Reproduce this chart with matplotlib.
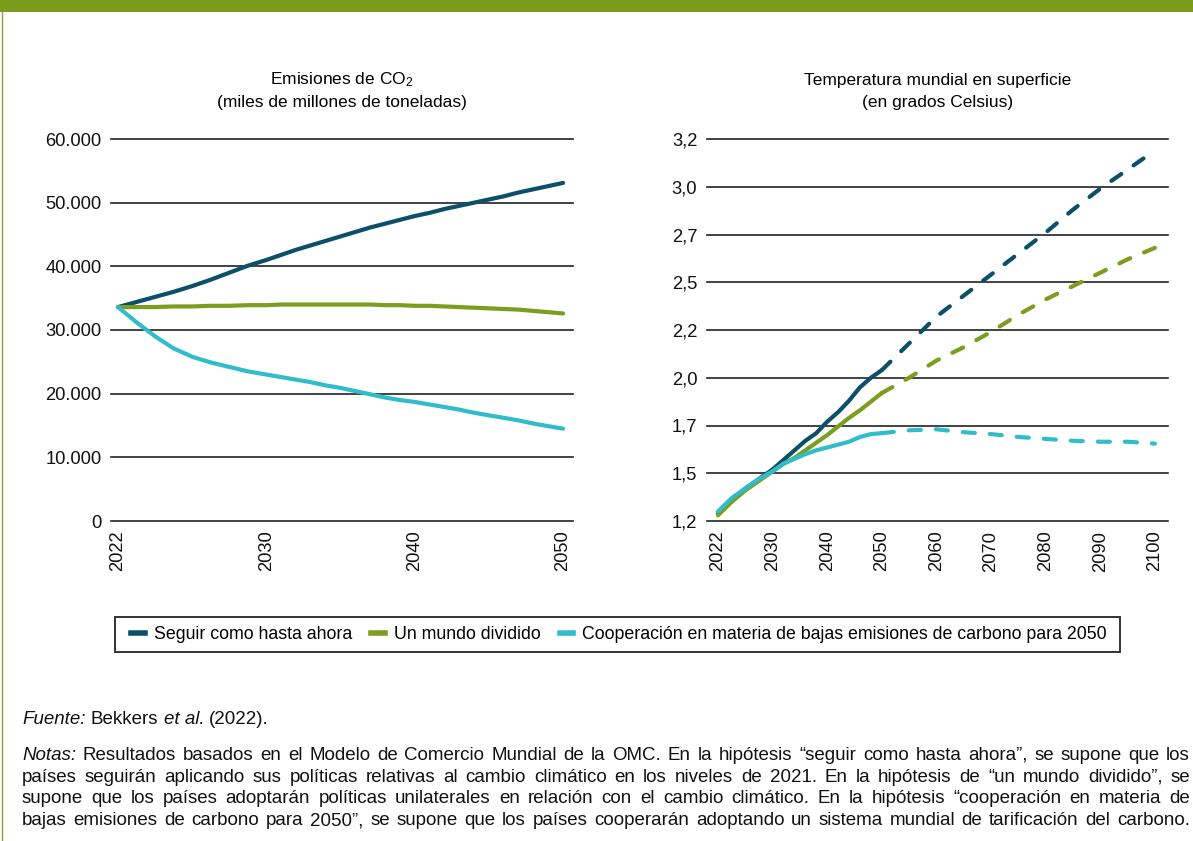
import numpy as np
import matplotlib
matplotlib.use("Agg")
import matplotlib.pyplot as plt
from matplotlib.patches import Rectangle
from matplotlib.lines import Line2D

plt.rcParams['font.family'] = ['Liberation Sans', 'DejaVu Sans']
plt.rcParams['mathtext.fontset'] = 'custom'
plt.rcParams['mathtext.rm'] = 'Liberation Sans'
plt.rcParams['mathtext.it'] = 'Liberation Sans:italic'

# ---------------- data ----------------
series_names = ["Seguir como hasta ahora", "Un mundo dividido",
                "Cooperación en materia de bajas emisiones de carbono para 2050"]
series_colors = ["#0c4f69", "#7b9e1e", "#30bccb"]

# CO2 emissions (millions of tonnes), yearly 2022-2050
co2_years = list(range(2022, 2051))
co2_seguir = [33600, 34400, 35200, 36000, 36900, 37900, 39000, 40100, 41000, 41800,
              42600, 43300, 44000, 44700, 45400, 46100, 46700, 47300, 47900, 48400,
              49000, 49500, 50000, 50500, 51000, 51600, 52100, 52600, 53100]
co2_dividido = [33600, 33600, 33600, 33700, 33700, 33800, 33800, 33900, 33900, 34000,
                34000, 34000, 34000, 34000, 34000, 34000, 33900, 33900, 33800, 33800,
                33700, 33600, 33500, 33400, 33300, 33200, 33000, 32800, 32600]
co2_coop = [33600, 31200, 29000, 27100, 25800, 24900, 24200, 23500, 23000, 22600,
            22200, 21800, 21300, 20900, 20400, 19900, 19400, 19000, 18700, 18300,
            17900, 17500, 17000, 16600, 16200, 15800, 15300, 14900, 14500]
co2_ticks = [0, 10000, 20000, 30000, 40000, 50000, 60000]
co2_ticklabels = ["0", "10.000", "20.000", "30.000", "40.000", "50.000", "60.000"]
co2_xticks = [2022, 2030, 2040, 2050]

# Global surface temperature (°C)
temp_years = [2022, 2024, 2026, 2028, 2030, 2032, 2034, 2036, 2038, 2040, 2042, 2044,
              2046, 2048, 2050, 2055, 2060, 2065, 2070, 2075, 2080, 2085, 2090, 2095, 2100]
temp_seguir = [1.29, 1.36, 1.42, 1.47, 1.52, 1.57, 1.62, 1.67, 1.71, 1.77, 1.82, 1.88,
               1.95, 2.00, 2.04, 2.18, 2.32, 2.43, 2.54, 2.65, 2.76, 2.88, 2.99, 3.09, 3.19]
temp_dividido = [1.28, 1.35, 1.41, 1.46, 1.51, 1.55, 1.58, 1.62, 1.66, 1.70, 1.745, 1.79,
                 1.83, 1.875, 1.92, 2.00, 2.09, 2.16, 2.24, 2.33, 2.41, 2.48, 2.55, 2.62, 2.68]
temp_coop = [1.30, 1.37, 1.42, 1.47, 1.51, 1.55, 1.575, 1.60, 1.62, 1.635, 1.65, 1.665,
             1.69, 1.705, 1.71, 1.725, 1.73, 1.715, 1.705, 1.69, 1.68, 1.67, 1.665, 1.665, 1.655]
temp_split_year = 2050
temp_ticks = [1.25, 1.5, 1.75, 2.0, 2.25, 2.5, 2.75, 3.0, 3.25]
temp_ticklabels = ["1,2", "1,5", "1,7", "2,0", "2,2", "2,5", "2,7", "3,0", "3,2"]
temp_xticks = [2022, 2030, 2040, 2050, 2060, 2070, 2080, 2090, 2100]

# ---------------- figure ----------------
W, H = 1193, 841
fig = plt.figure(figsize=(W / 100, H / 100), dpi=100)

# top band and left rule
fig.patches.append(Rectangle((0, 1 - 12 / H), 1, 12 / H, transform=fig.transFigure,
                             facecolor="#7a9c1b", edgecolor="none"))
fig.lines.append(Line2D([2 / W, 2 / W], [0, 1 - 12 / H], transform=fig.transFigure,
                        color="#8d9c45", lw=1))

# axis scale: first interval (2022-2030) drawn with the same width as 10 years
def fwd(x):
    x = np.asarray(x, dtype=float)
    return np.where(x < 2030, 2030 - (2030 - x) * 1.25, x)

def inv(x):
    x = np.asarray(x, dtype=float)
    return np.where(x < 2030, 2030 - (2030 - x) / 1.25, x)

ax1 = fig.add_axes([111 / W, 1 - 521 / H, 462 / W, 382 / H])
ax2 = fig.add_axes([707 / W, 1 - 521 / H, 461 / W, 382 / H])

LW = 3.0
GRID_C = "#222222"
TICK_FS = 13.2

def style_axis(ax):
    for s in ax.spines.values():
        s.set_visible(False)
    ax.tick_params(axis='both', length=0, labelsize=TICK_FS, colors="#111111")
    ax.tick_params(axis='y', pad=7)
    ax.tick_params(axis='x', pad=7, labelrotation=90)
    ax.yaxis.grid(True, color=GRID_C, lw=1.2)
    ax.set_axisbelow(True)
    for gl in ax.get_ygridlines():
        gl.set_clip_on(False)

# ---- left: CO2
ax1.set_xscale('function', functions=(fwd, inv))
for vals, c in zip([co2_seguir, co2_dividido, co2_coop], series_colors):
    ax1.plot(co2_years, vals, color=c, lw=LW, solid_capstyle='round', solid_joinstyle='round')
ax1.set_ylim(0, 60000)
ax1.set_yticks(co2_ticks)
ax1.set_yticklabels(co2_ticklabels)
ax1.set_xlim(2021.62, 2050.67)
ax1.set_xticks(co2_xticks)
ax1.set_xticklabels([str(y) for y in co2_xticks])
style_axis(ax1)

# ---- right: temperature
ax2.set_xscale('function', functions=(fwd, inv))
ty = np.array(temp_years)
for vals, c in zip([temp_seguir, temp_dividido, temp_coop], series_colors):
    v = np.array(vals)
    m1 = ty <= temp_split_year
    m2 = ty >= temp_split_year
    ax2.plot(ty[m1], v[m1], color=c, lw=LW, solid_capstyle='round', solid_joinstyle='round')
    ax2.plot(ty[m2], v[m2], color=c, lw=LW, linestyle=(0, (2.9, 3.6)),
             dash_capstyle='round')
ax2.set_ylim(1.25, 3.25)
ax2.set_yticks(temp_ticks)
ax2.set_yticklabels(temp_ticklabels)
ax2.set_xlim(2020.39, 2102.4)
ax2.set_xticks(temp_xticks)
ax2.set_xticklabels([str(y) for y in temp_xticks])
style_axis(ax2)

# titles
cx1 = (111 + 573) / 2 / W
cx2 = (707 + 1168) / 2 / W
fig.text(cx1, 1 - 80 / H, "Emisiones de CO$_{2}$", ha='center', va='center', fontsize=12.5)
fig.text(cx1, 1 - 102 / H, "(miles de millones de toneladas)", ha='center', va='center', fontsize=12.5)
fig.text(cx2, 1 - 80 / H, "Temperatura mundial en superficie", ha='center', va='center', fontsize=12.5)
fig.text(cx2, 1 - 102 / H, "(en grados Celsius)", ha='center', va='center', fontsize=12.5)

# legend (frame drawn as a separate box)
fig.patches.append(Rectangle((115 / W, 1 - 652 / H), 1005 / W, 35 / H, transform=fig.transFigure,
                             facecolor="white", edgecolor="#333333", lw=1.4))
handles = [Line2D([0], [0], color=c, lw=4) for c in series_colors]
leg = fig.legend(handles, series_names, loc='center', bbox_to_anchor=(619 / W, 1 - 634.5 / H),
                 ncol=3, frameon=False, fontsize=12.8,
                 handlelength=0.75, handletextpad=0.5, columnspacing=1.1)

# footer text
fig.canvas.draw()
renderer = fig.canvas.get_renderer()
FS = 13.5

def place_tokens(tokens, y_px, x0_px, x1_px=None):
    texts = [fig.text(0, 1 - y_px / H, t, fontsize=FS, style=s, va='baseline', color="#111111")
             for t, s in tokens]
    widths = [t.get_window_extent(renderer).width for t in texts]
    if x1_px is None:
        t1 = fig.text(0, 0, "a a", fontsize=FS)
        t2 = fig.text(0, 0, "aa", fontsize=FS)
        gap = t1.get_window_extent(renderer).width - t2.get_window_extent(renderer).width
        t1.remove()
        t2.remove()
    else:
        gap = (x1_px - x0_px - sum(widths)) / max(len(texts) - 1, 1)
    x = x0_px
    for t, w in zip(texts, widths):
        t.set_x(x / W)
        x += w + gap

def words(s, style='normal'):
    return [(w, style) for w in s.split()]

place_tokens([("Fuente:", 'italic'), ("Bekkers", 'normal'), ("et al.", 'italic'), ("(2022).", 'normal')],
             724, 22)

note_lines = [
    [("Notas:", 'italic')] + words("Resultados basados en el Modelo de Comercio Mundial de la OMC. "
                                   "En la hipótesis “seguir como hasta ahora”, se supone que los"),
    words("países seguirán aplicando sus políticas relativas al cambio climático en los niveles "
          "de 2021. En la hipótesis de “un mundo dividido”, se"),
    words("supone que los países adoptarán políticas unilaterales en relación con el cambio "
          "climático. En la hipótesis “cooperación en materia de"),
    words("bajas emisiones de carbono para 2050”, se supone que los países cooperarán adoptando "
          "un sistema mundial de tarificación del carbono."),
]
for i, toks in enumerate(note_lines):
    place_tokens(toks, 760 + i * 21.7, 22, 1190)

fig.savefig("out.png", dpi=100)
